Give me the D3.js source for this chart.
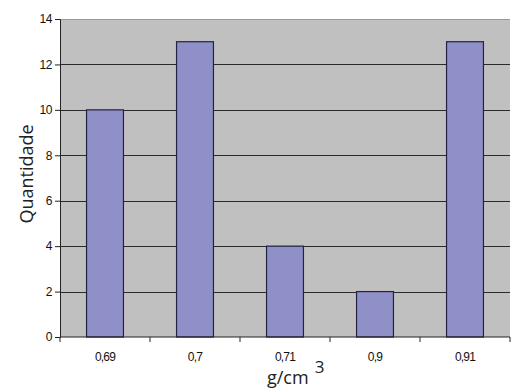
<!DOCTYPE html>
<html><head><meta charset="utf-8">
<script src="https://cdn.jsdelivr.net/npm/d3@7"></script>
<style>body{margin:0;background:#fff}svg{display:block}</style>
</head><body>
<script>
const categories = ["0,69", "0,7", "0,71", "0,9", "0,91"];
const values = [10, 13, 4, 2, 13];
const yTicks = [0, 2, 4, 6, 8, 10, 12, 14];

const W = 511, H = 390;
const m = {left: 60, right: 1, top: 19, bottom: 53};
const svg = d3.select("body").append("svg").attr("width", W).attr("height", H);
const x = d3.scaleBand().domain(categories).range([m.left, W - m.right]).paddingInner(0.59).paddingOuter(0.295);
const y = d3.scaleLinear().domain([0, 14]).range([H - m.bottom, m.top]);

svg.append("rect").attr("x", m.left).attr("y", m.top).attr("width", W - m.right - m.left).attr("height", y(0) - m.top).attr("fill", "#c0c0c0");
svg.append("line").attr("x1", m.left).attr("x2", W - m.right).attr("y1", m.top + 0.5).attr("y2", m.top + 0.5).attr("stroke", "#999");

svg.append("g").selectAll("line").data(yTicks.filter(d => d > 0 && d < 14)).join("line")
  .attr("x1", m.left).attr("x2", W - m.right)
  .attr("y1", d => Math.round(y(d)) + 0.5).attr("y2", d => Math.round(y(d)) + 0.5)
  .attr("stroke", "#2a2a2a").attr("stroke-width", 1.2);

svg.append("g").selectAll("rect").data(values).join("rect")
  .attr("x", (d, i) => x(categories[i])).attr("width", x.bandwidth())
  .attr("y", d => y(d)).attr("height", d => y(0) - y(d))
  .attr("fill", "#9090c8").attr("stroke", "#222244").attr("stroke-width", 1.2);

const yAxis = svg.append("g").attr("transform", `translate(${m.left},0)`)
  .call(d3.axisLeft(y).tickValues(yTicks).tickSize(5).tickFormat(d3.format("d")));
yAxis.selectAll("text").attr("font-family", "Liberation Sans, Arial, sans-serif").attr("font-size", 12).attr("fill", "#111").attr("letter-spacing", -0.4);
yAxis.selectAll("line,path").attr("stroke", "#222");

const xt = d3.scalePoint().domain(d3.range(categories.length + 1)).range([m.left, W - m.right]);
const xAxis = svg.append("g").attr("transform", `translate(0,${y(0)})`);
xAxis.append("line").attr("x1", m.left).attr("x2", W - m.right).attr("stroke", "#222");
xAxis.selectAll("line.t").data(xt.domain()).join("line").attr("class", "t")
  .attr("x1", d => xt(d)).attr("x2", d => xt(d)).attr("y1", 0).attr("y2", 5).attr("stroke", "#222");
xAxis.selectAll("text").data(categories).join("text")
  .attr("x", d => x(d) + x.bandwidth() / 2).attr("y", 24)
  .attr("text-anchor", "middle").attr("font-family", "Liberation Sans, Arial, sans-serif")
  .attr("font-size", 12).attr("letter-spacing", -0.8).attr("fill", "#111").text(d => d);

svg.append("text").attr("transform", "translate(33,174) rotate(-90)")
  .attr("text-anchor", "middle").attr("font-family", "Open Sans, sans-serif").attr("font-size", 18).attr("fill", "#222").text("Quantidade");

const xl = svg.append("text").attr("x", 267).attr("y", 384).attr("font-family", "Open Sans, sans-serif").attr("font-size", 18).attr("fill", "#222");
xl.append("tspan").text("g/cm");
xl.append("tspan").attr("dx", 6).attr("dy", -11).attr("font-size", 17).text("3");
</script>
</body></html>
